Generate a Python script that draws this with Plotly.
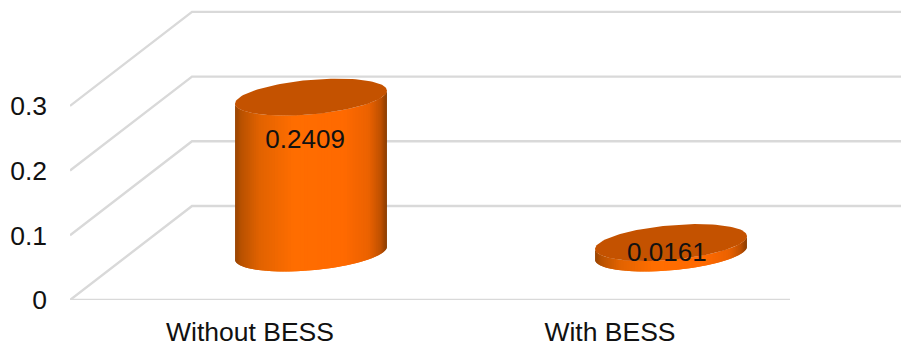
import numpy as np
import plotly.graph_objects as go

categories = ["Without BESS", "With BESS"]
values = [0.2409, 0.0161]
value_labels = ["0.2409", "0.0161"]
y_ticks = [0, 0.1, 0.2, 0.3]
y_tick_labels = ["0", "0.1", "0.2", "0.3"]

# Layout geometry of the pseudo-3D projection (pixels of the plot area)
PX_PER_CAT = 360.0
PX_PER_VAL = 647.0
W, H = 901, 346
ML, MB = 70, 46
DEPTH_X = 122 / PX_PER_CAT
DEPTH_Y = 94 / PX_PER_VAL
X0 = 0.5
X_MAX = X0 + (W - ML) / PX_PER_CAT
Y_MAX = (H - MB) / PX_PER_VAL
A = 76 / PX_PER_CAT          # ellipse half-width
TILT = 6.5 / PX_PER_VAL      # drop of left tip
DEEP = 17.3 / PX_PER_VAL     # vertical half-depth
label_dx = [0.153, 0.158]
label_dy = [0.0048, 0.055]

GRID = "#d9d9d9"
TOP = "#c45200"
stops = [(0, (150, 66, 0)), (0.04, (185, 82, 0)), (0.16, (225, 98, 0)), (0.38, (255, 110, 0)),
         (0.72, (255, 106, 0)), (0.88, (235, 98, 0)), (0.96, (190, 80, 0)), (1, (135, 60, 0))]


def shade(f):
    xs = [s[0] for s in stops]
    return "rgb(%d,%d,%d)" % tuple(int(np.interp(f, xs, [s[1][i] for s in stops])) for i in range(3))


def ellipse(cx, cy, t):
    return cx + A * np.cos(t), cy + TILT * np.cos(t) + DEEP * np.sin(t)


fig = go.Figure()

for v in y_ticks:
    fig.add_trace(go.Scatter(x=[X0, X0 + DEPTH_X, X_MAX], y=[v, v + DEPTH_Y, v + DEPTH_Y], mode="lines",
                             line=dict(color=GRID, width=2.4), hoverinfo="skip", showlegend=False, cliponaxis=False))
fig.add_trace(go.Scatter(x=[X0, 2.5], y=[0, 0], mode="lines", line=dict(color=GRID, width=2.4),
                         hoverinfo="skip", showlegend=False, cliponaxis=False))

N = 70
for i, (cat, val) in enumerate(zip(categories, values)):
    cx = i + 1 + DEPTH_X / 2
    base = DEPTH_Y / 2
    top = base + val
    ts = np.linspace(np.pi, 2 * np.pi, N + 1)  # front arc, left to right
    for k in range(N):
        t = np.linspace(ts[k], ts[min(k + 2, N)], 4)
        xb, yb = ellipse(cx, base, t)
        xt, yt = ellipse(cx, top, t)
        f = (1 + np.cos(ts[k] + np.pi / N / 2)) / 2
        fig.add_trace(go.Scatter(x=np.r_[xb, xt[::-1]], y=np.r_[yb, yt[::-1]], mode="lines", fill="toself",
                                 fillcolor=shade(f), line=dict(width=0), hoverinfo="skip", showlegend=False))
    t = np.linspace(0, 2 * np.pi, 121)
    xe, ye = ellipse(cx, top, t)
    fig.add_trace(go.Scatter(x=xe, y=ye, mode="lines", fill="toself", fillcolor=TOP,
                             line=dict(width=0), hoverinfo="skip", showlegend=False, name=cat))

fig.add_trace(go.Scatter(x=[i + 1 + label_dx[i] for i in range(2)],
                         y=[values[i] + label_dy[i] for i in range(2)],
                         mode="text", text=value_labels, textposition="middle center",
                         textfont=dict(family="Liberation Sans", size=26, color="#111111"),
                         hoverinfo="skip", showlegend=False))

fig.update_layout(
    width=W, height=H, autosize=False, paper_bgcolor="white", plot_bgcolor="white",
    margin=dict(l=ML, r=0, t=0, b=MB, pad=0),
    font=dict(family="Liberation Sans", size=26.5, color="#111111"),
    xaxis=dict(range=[X0, X_MAX], tickmode="array", tickvals=[1, 2], ticktext=categories,
               showgrid=False, zeroline=False, showline=False, ticks="", ticklabelstandoff=13, fixedrange=True),
    yaxis=dict(range=[0, Y_MAX], tickmode="array", tickvals=y_ticks, ticktext=y_tick_labels,
               showgrid=False, zeroline=False, showline=False, ticks="", ticklabelstandoff=22, fixedrange=True),
)
fig.write_html("out.html", config=dict(displayModeBar=False),
               post_script="document.body.style.margin='0';document.documentElement.style.overflow='hidden';")
